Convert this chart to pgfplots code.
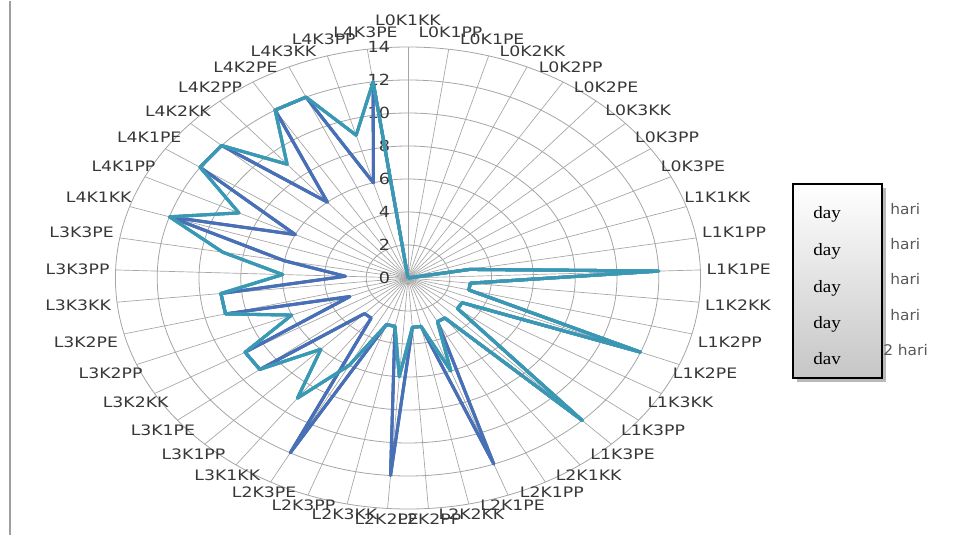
\documentclass[border=0pt]{standalone}
\usepackage{pgfplots}
\pgfplotsset{compat=1.18}
\usepackage{pgfplotstable}
\usepackage{fontspec}
\setmainfont{DejaVu Sans}
\newfontfamily\legserif{Liberation Serif}
\definecolor{cB1}{RGB}{62,100,170}
\definecolor{cB2}{RGB}{72,112,182}
\definecolor{cT1}{RGB}{80,165,200}
\definecolor{cT2}{RGB}{70,172,200}
\definecolor{cT3}{RGB}{58,152,178}
\definecolor{gridc}{RGB}{165,165,165}
\definecolor{labc}{RGB}{55,55,55}

\pgfplotstableread{
i s1 s2 s3 s4 s5
0 0 0 0 0 0
1 0 0 0 0 0
2 0 0 0 0 0
3 0 0 0 0 0
4 0 0 0 0 0
5 0 0 0 0 0
6 0 0 0 0 0
7 0 0 0 0 0
8 0 0 0 0 0
9 0 0 0 0 0
10 3 3 3 3 3
11 12 12 12 12 12
12 3 3 3 3 3
13 3 3 3 3 3
14 12 12 12 12 12
15 3 3 3 3 3
16 3 3 3 3 3
17 12 12 12 12 12
18 3 3 3 3 3
19 3 3 3 3 3
20 12 12 6 6 6
21 3 3 3 3 3
22 3 3 3 3 3
23 12 12 6 6 6
24 3 3 3 3 3
25 3 3 3 3 3
26 12 12 6 6 6
27 3 3 9 9 9
28 3 3 6 6 6
29 9 9 9 9 9
30 9 9 9 9 9
31 3 3 6 6 6
32 9 9 9 9 9
33 9 9 9 9 9
34 3 3 6 6 6
35 6 6 9 9 9
36 12 12 12 12 12
37 6 6 9 9 9
38 12 12 12 12 12
39 12 12 12 12 12
40 6 6 9 9 9
41 12 12 12 12 12
42 12 12 12 12 12
43 6 6 9 9 9
44 12 12 12 12 12
45 0 0 0 0 0
}\radar

\begin{document}
\begin{tikzpicture}
% page frame in pixel units
\begin{scope}[x=0.75pt, y=-0.75pt, shift={(0pt,400.5pt)}]
  \path (0,0) rectangle (955,534);
  \draw[gray!75, line width=1.5pt] (10,0) -- (10,534);
\end{scope}
% grid
\foreach \r in {2,4,...,14} {
  \draw[gridc, line width=0.6pt] (306pt,192.75pt) ellipse [x radius={\r*15.675pt}, y radius={\r*12.375pt}];
}
\foreach \i in {0,...,44} {
  \draw[gridc, line width=0.5pt] (306pt,192.75pt) -- ++({219.45pt*sin(8*\i)},{173.25pt*cos(8*\i)});
}
% category labels
\foreach \i/\n in {0/L0K1KK,1/L0K1PP,2/L0K1PE,3/L0K2KK,4/L0K2PP,5/L0K2PE,6/L0K3KK,7/L0K3PP,8/L0K3PE,
  9/L1K1KK,10/L1K1PP,11/L1K1PE,12/L1K2KK,13/L1K2PP,14/L1K2PE,15/L1K3KK,16/L1K3PP,17/L1K3PE,
  18/L2K1KK,19/L2K1PP,20/L2K1PE,21/L2K2KK,22/L2K2PP,23/L2K2PE,24/L2K3KK,25/L2K3PP,26/L2K3PE,
  27/L3K1KK,28/L3K1PP,29/L3K1PE,30/L3K2KK,31/L3K2PP,32/L3K2PE,33/L3K3KK,34/L3K3PP,35/L3K3PE,
  36/L4K1KK,37/L4K1PP,38/L4K1PE,39/L4K2KK,40/L4K2PP,41/L4K2PE,42/L4K3KK,43/L4K3PP,44/L4K3PE} {
  \pgfmathtruncatemacro\a{mod(270-8*\i+720,360)}
  \pgfmathsetmacro\rr{max(0,cos(8*\i))*5+(\i==0)*7}
  \node[anchor=\a, inner sep=1.5pt, text=labc, font=\fontsize{10.8}{12}\selectfont, xscale=1.2]
    at ({306pt+222pt*sin(8*\i)},{192.75pt+(175.5pt+\rr pt)*cos(8*\i)}) {\n};
}
% radial tick numbers
\foreach \v in {0,2,...,14} {
  \node[anchor=east, inner sep=1pt, text=labc, font=\fontsize{11.5}{12}\selectfont, xscale=1.15]
    at (294pt,{192.75pt+\v*12.375pt}) {\v};
}
\begin{axis}[at={(0,0)}, anchor=south west, scale only axis,
  x=15.675pt, y=12.375pt,
  xmin=-19.522, xmax=26.172, ymin=-15.576, ymax=16.788,
  hide axis, clip=false]
\addplot[cB1, line width=2.3pt, line join=round] table[x expr={\thisrow{s1}*sin(8*\thisrow{i})}, y expr={\thisrow{s1}*cos(8*\thisrow{i})}] {\radar};
\addplot[cB2, line width=2.3pt, line join=round] table[x expr={\thisrow{s2}*sin(8*\thisrow{i})}, y expr={\thisrow{s2}*cos(8*\thisrow{i})}] {\radar};
\addplot[cT1, line width=2.3pt, line join=round] table[x expr={\thisrow{s3}*sin(8*\thisrow{i})}, y expr={\thisrow{s3}*cos(8*\thisrow{i})}] {\radar};
\addplot[cT2, line width=2.3pt, line join=round] table[x expr={\thisrow{s4}*sin(8*\thisrow{i})}, y expr={\thisrow{s4}*cos(8*\thisrow{i})}] {\radar};
\addplot[cT3, line width=2.3pt, line join=round] table[x expr={\thisrow{s5}*sin(8*\thisrow{i})}, y expr={\thisrow{s5}*cos(8*\thisrow{i})}] {\radar};
\end{axis}
% legend box
\begin{scope}[x=0.75pt, y=-0.75pt, shift={(0pt,400.5pt)}]
  \fill[gray!55] (797,187) rectangle (886,381);
  \shade[top color=white, bottom color=gray!45] (793,183) rectangle (882,377);
  \draw[line width=1.2pt] (793,183) rectangle (882,377);
  \foreach \y/\t in {213/day,250/day,287/day,323/day,358/dav} {
    \node[anchor=west, inner sep=0pt, font=\legserif\fontsize{13}{14}\selectfont, xscale=1.1] at (813,\y) {\t};
  }
  \foreach \y/\t/\xx in {208/hari/890,243/hari/890,278/hari/890,314/hari/890,349/2 hari/883} {
    \node[anchor=west, inner sep=0pt, text=gray!70!black, font=\fontsize{11}{12}\selectfont, xscale=1.05] at (\xx,\y) {\t};
  }
\end{scope}
\end{tikzpicture}
\end{document}
